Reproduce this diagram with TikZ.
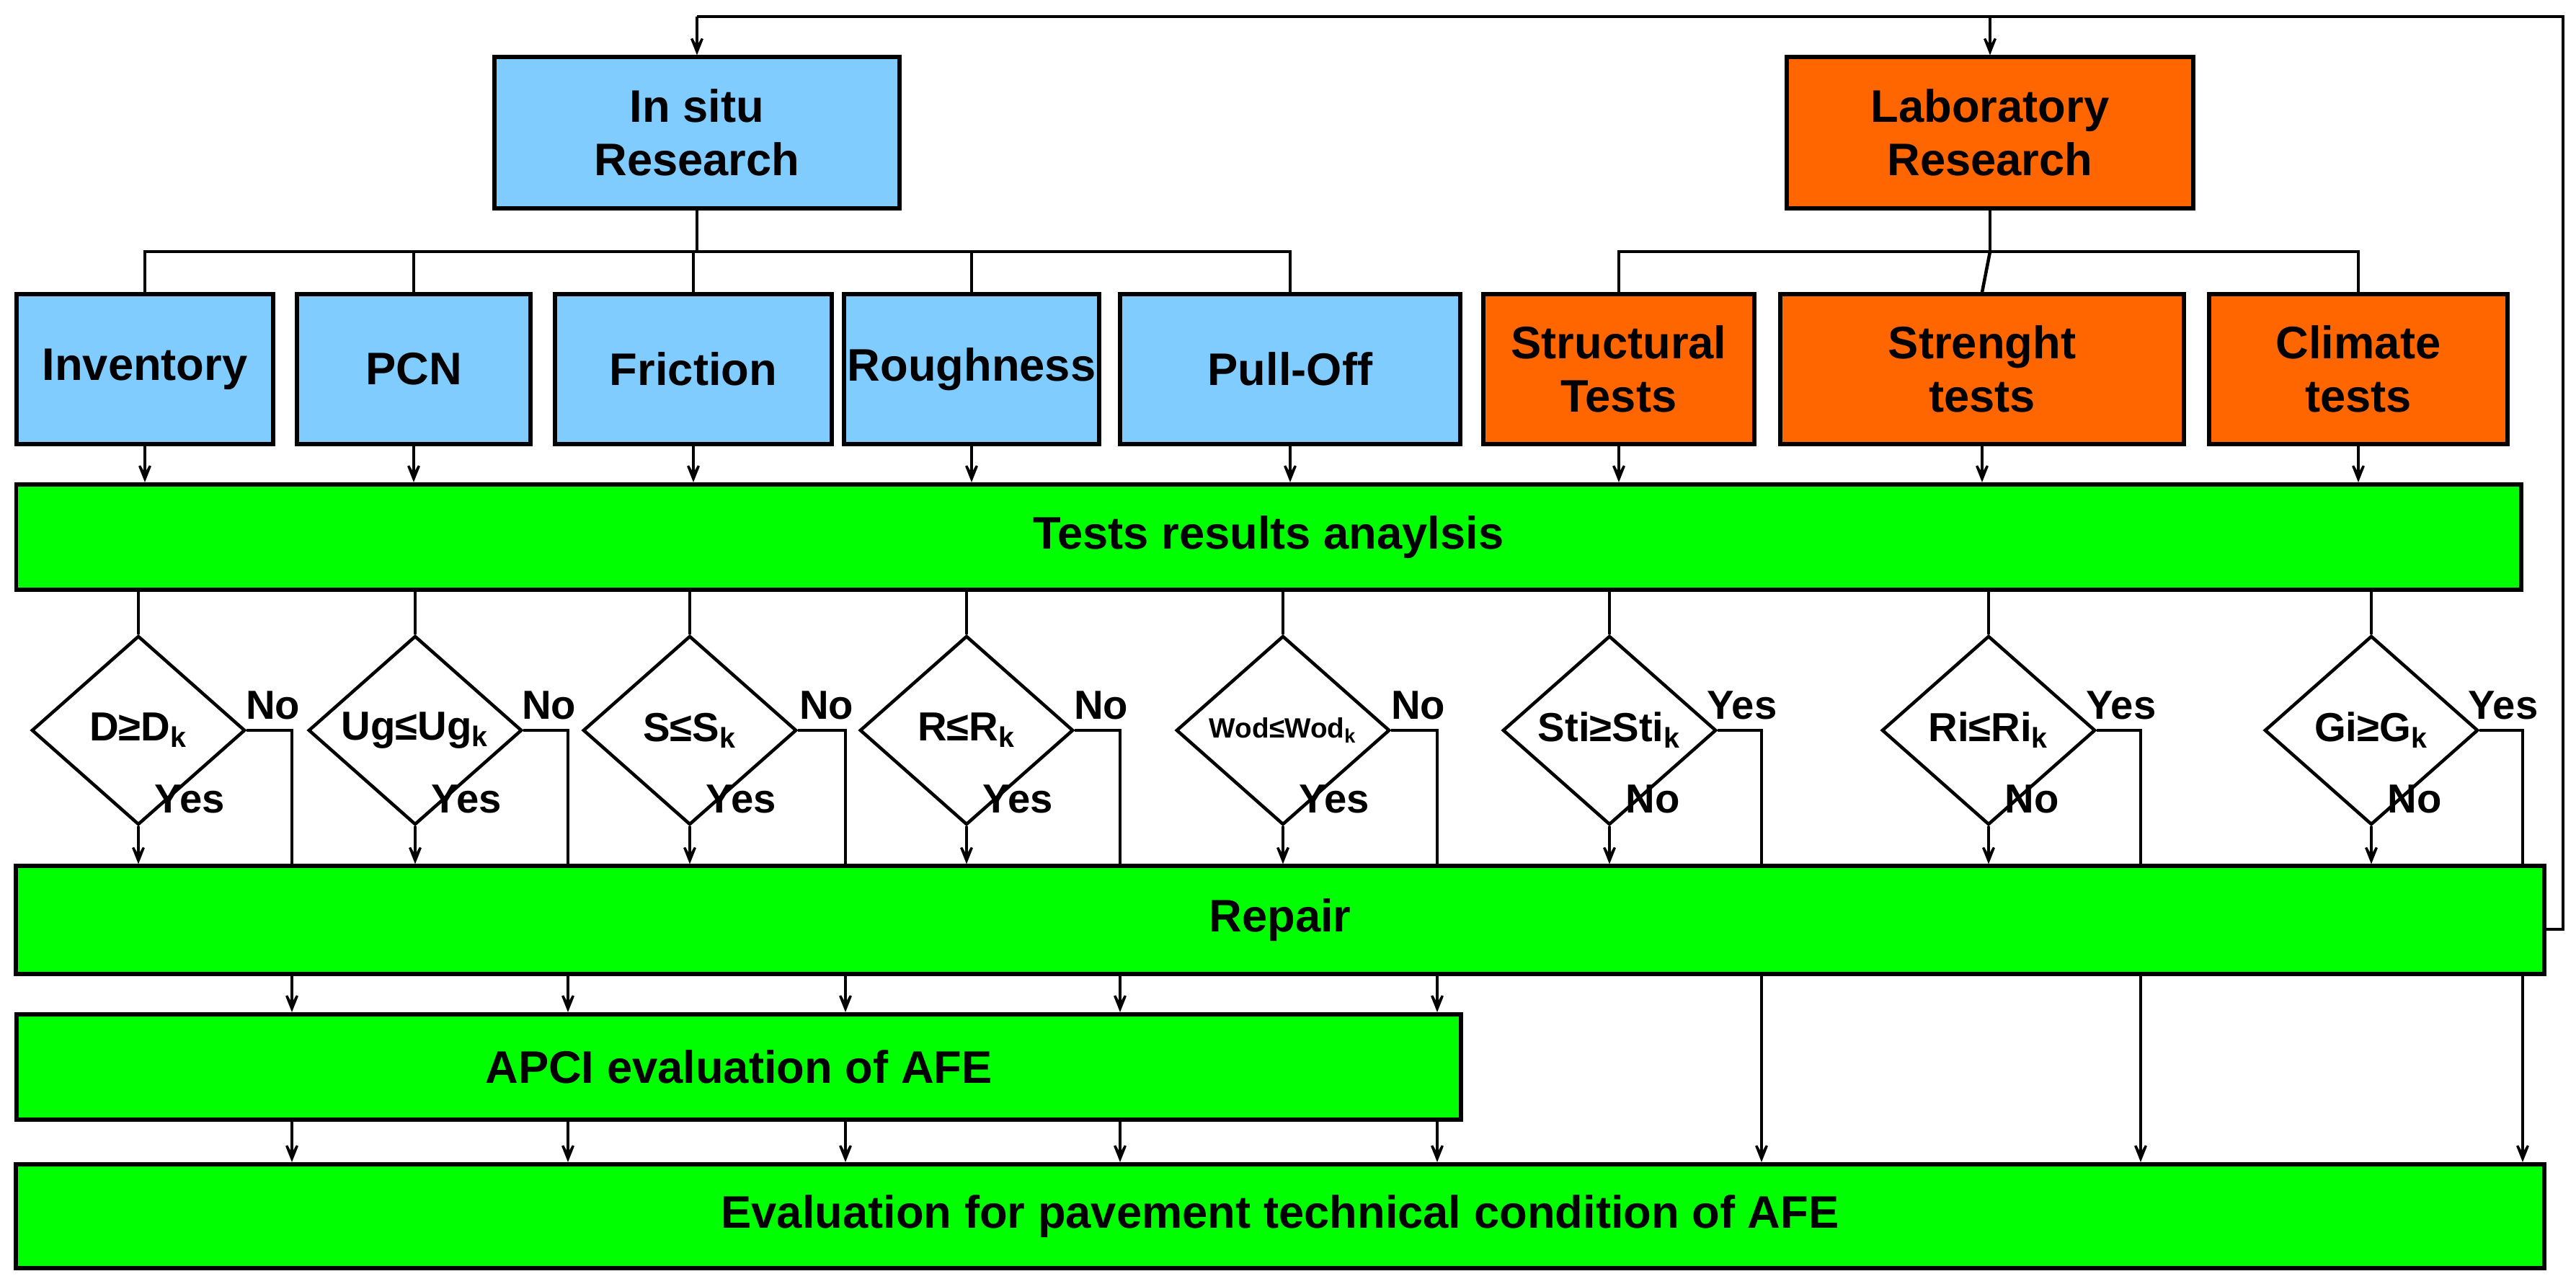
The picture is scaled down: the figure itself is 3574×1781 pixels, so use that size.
\documentclass[tikz,border=0pt]{standalone}
\usepackage{fontspec}
\setmainfont{Liberation Sans}
\usetikzlibrary{arrows.meta,shapes.geometric,calc}
\definecolor{lblue}{HTML}{80CCFF}
\definecolor{orng}{HTML}{FF6600}
\definecolor{grn}{HTML}{00FF00}
\begin{document}
\begin{tikzpicture}[x=0.01cm,y=-0.01cm,
  box/.style={draw,line width=1.7pt,inner sep=0pt,align=center,font=\fontsize{18}{21}\selectfont\bfseries},
  bbox/.style={box,fill=lblue},
  obox/.style={box,fill=orng},
  gbox/.style={box,fill=grn},
  dia/.style={draw,diamond,line width=1.3pt,inner sep=0pt,minimum width=2.96cm,minimum height=2.62cm,font=\fontsize{16}{18}\selectfont\bfseries},
  lbl/.style={font=\fontsize{16}{18}\selectfont\bfseries,inner sep=0pt},
  ln/.style={line width=1.3pt},
  arr/.style={ln,-{Stealth[length=4.5mm,width=3.6mm,inset=3.2mm]}}]
\useasboundingbox (0,0) rectangle (3574,1781);
% top boxes
\node[bbox,minimum width=5.62cm,minimum height=2.09cm] (ins) at (967,184) {In situ\\Research};
\node[obox,minimum width=5.63cm,minimum height=2.09cm] (lab) at (2761,184) {Laboratory\\Research};
% second row
\node[bbox,minimum width=3.56cm,minimum height=2.07cm] (inv) at (201,512) {Inventory};
\node[bbox,minimum width=3.23cm,minimum height=2.07cm] (pcn) at (574,512) {PCN};
\node[bbox,minimum width=3.83cm,minimum height=2.07cm] (fri) at (962,512) {Friction};
\node[bbox,minimum width=3.53cm,minimum height=2.07cm] (rou) at (1348,512) {Roughness};
\node[bbox,minimum width=4.72cm,minimum height=2.07cm] (pul) at (1790,512) {Pull-Off};
\node[obox,minimum width=3.76cm,minimum height=2.07cm] (stu) at (2246,512) {Structural\\Tests};
\node[obox,minimum width=5.59cm,minimum height=2.07cm] (stg) at (2750,512) {Strenght\\tests};
\node[obox,minimum width=4.13cm,minimum height=2.07cm] (cli) at (3272,512) {Climate\\tests};
% green bars
\node[gbox,minimum width=34.73cm,minimum height=1.46cm] (tst) at (1760,745) {Tests results anaylsis};
\node[gbox,minimum width=35.05cm,minimum height=1.49cm] (rep) at (1776,1276) {Repair};
\node[gbox,minimum width=20.03cm,minimum height=1.46cm] (apc) at (1025,1480) {APCI evaluation of AFE};
\node[gbox,minimum width=35.05cm,minimum height=1.44cm] (evl) at (1776,1687) {Evaluation for pavement technical condition of AFE};
% diamonds
\node[dia] (d1) at (192,1013) {D≥D\textsubscript{k}};
\node[dia] (d2) at (576,1013) {Ug≤Ug\textsubscript{k}};
\node[dia] (d3) at (957,1013) {S≤S\textsubscript{k}};
\node[dia] (d4) at (1341,1013) {R≤R\textsubscript{k}};
\node[dia,font=\fontsize{11}{13}\selectfont\bfseries] (d5) at (1780,1013) {Wod≤Wod\textsubscript{k}};
\node[dia] (d6) at (2233,1013) {Sti≥Sti\textsubscript{k}};
\node[dia] (d7) at (2759,1013) {Ri≤Ri\textsubscript{k}};
\node[dia] (d8) at (3290,1013) {Gi≥G\textsubscript{k}};
% branch coordinates
\coordinate (ib) at (967,349);
\coordinate (lb) at (2761,349);
\draw[ln] (ins.south) -- (ib);
\draw[ln] (inv.north) |- (ib) -| (pul.north);
\foreach \n in {pcn,fri,rou} \draw[ln] (\n.north) -- (\n.north |- ib);
\draw[ln] (lab.south) -- (lb);
\draw[ln] (stu.north) |- (lb) -| (cli.north);
\draw[ln] (lb) -- (stg.north);
% boxes to tests
\foreach \n in {inv,pcn,fri,rou,pul,stu,stg,cli} \draw[arr] (\n.south) -- (\n.south |- tst.north);
% tests to diamonds
\foreach \d in {d1,d2,d3,d4,d5,d6,d7,d8} \draw[ln] (\d.north |- tst.south) -- (\d.north);
% diamonds bottom to repair
\foreach \d in {d1,d2,d3,d4,d5,d6,d7,d8} \draw[arr] (\d.south) -- (\d.south |- rep.north);
% side branches (left: No, right: Yes)
\coordinate (s1) at (405,1013);
\coordinate (s2) at (788,1013);
\coordinate (s3) at (1173,1013);
\coordinate (s4) at (1554,1013);
\coordinate (s5) at (1994,1013);
\coordinate (s6) at (2444,1013);
\coordinate (s7) at (2970,1013);
\coordinate (s8) at (3500,1013);
\foreach \i in {1,...,8} \draw[ln] (d\i.east) -- (s\i) -- (s\i |- rep.north);
\foreach \i in {1,...,5} {
  \draw[arr] (s\i |- rep.south) -- (s\i |- apc.north);
  \draw[arr] (s\i |- apc.south) -- (s\i |- evl.north);
}
\foreach \i in {6,7,8} \draw[arr] (s\i |- rep.south) -- (s\i |- evl.north);
% labels
\foreach \i in {1,...,5} {
  \node[lbl,anchor=south east] (n\i) at ($(s\i)+(12,-14)$) {No};
  \node[lbl,anchor=west] (y\i) at ($(d\i.south)+(22,-38)$) {Yes};
}
\foreach \i in {6,7,8} {
  \node[lbl,anchor=south east] (y\i) at ($(s\i)+(22,-14)$) {Yes};
  \node[lbl,anchor=west] (n\i) at ($(d\i.south)+(22,-38)$) {No};
}
% feedback loop
\coordinate (fr) at (3556,1289);
\coordinate (ft) at (3556,23);
\coordinate (fl) at (967,23);
\coordinate (fm) at (2761,23);
\draw[ln] (rep.east |- fr) -- (fr) -- (ft) -- (fl);
\draw[arr] (fl) -- (ins.north);
\draw[arr] (fm) -- (lab.north);
\end{tikzpicture}
\end{document}
